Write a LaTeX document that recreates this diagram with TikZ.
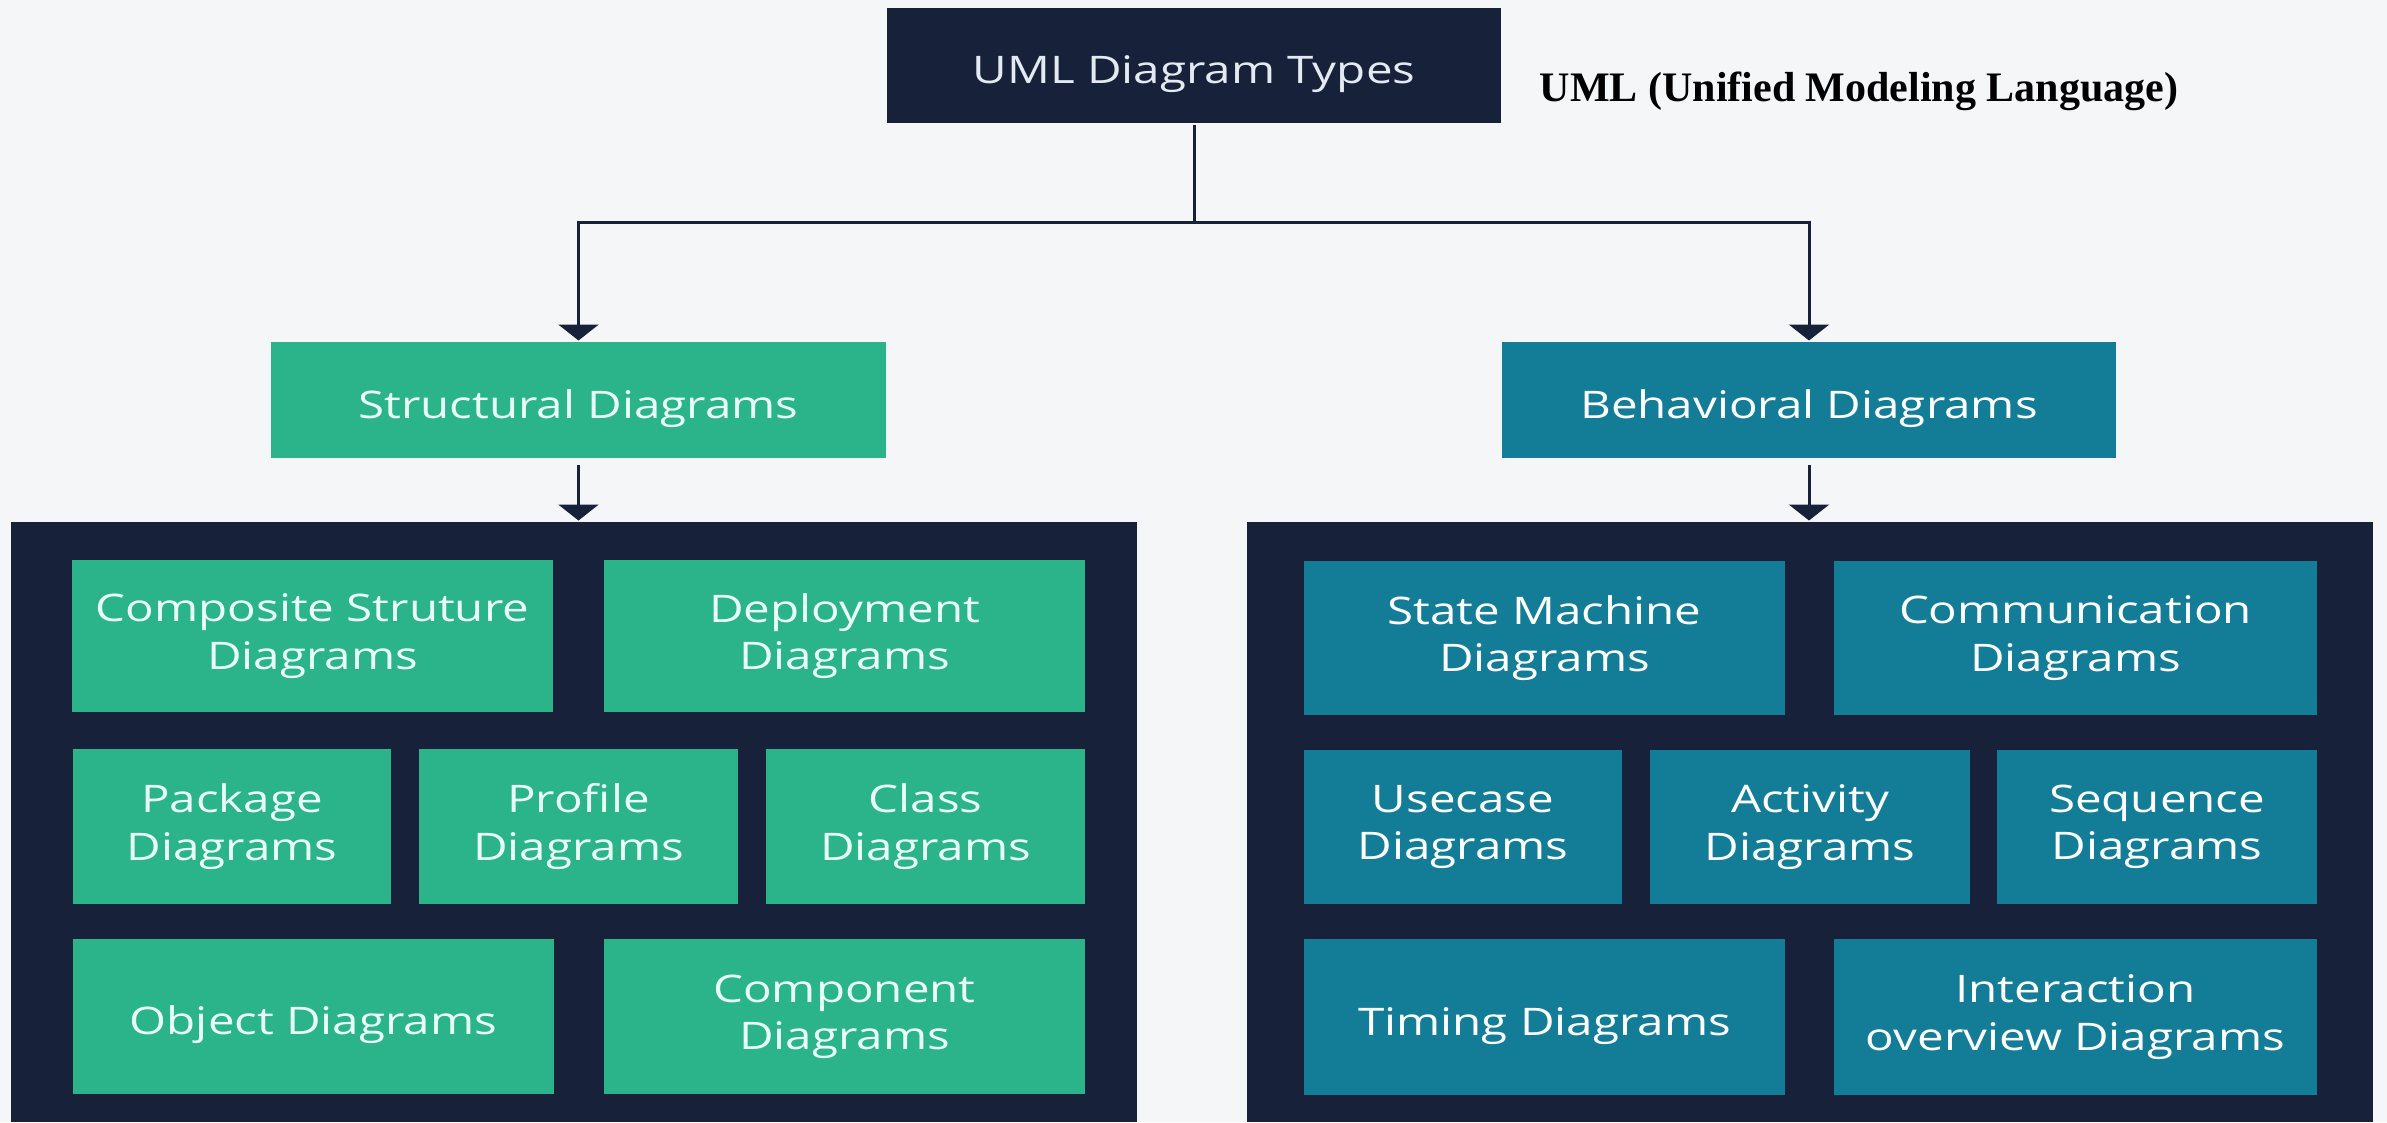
\documentclass[tikz,border=0pt]{standalone}
\usepackage{fontspec}
\setmainfont{Open Sans}[FakeStretch=1.25]
\newfontfamily\titlefont{Liberation Serif}
\usetikzlibrary{arrows.meta}

\definecolor{umlnavy}{RGB}{23,34,58}
\definecolor{umlgreen}{RGB}{43,179,138}
\definecolor{umlteal}{RGB}{19,124,150}
\definecolor{umlbg}{RGB}{244,246,248}
\definecolor{minttext}{RGB}{232,255,246}
\definecolor{paletext}{RGB}{228,234,242}

\newcommand\boxstrut{\rule{0pt}{34pt}}

\tikzset{every picture/.style={line width=2.25pt}}
\tikzset{
	box/.style 2 args={rectangle, inner sep=0pt, minimum width=#1*0.75pt, minimum height=#2*0.75pt, align=center, font=\fontsize{28.5}{35.5}\selectfont, execute at begin node=\boxstrut},
	greenbox/.style={fill=umlgreen, text=minttext},
	tealbox/.style={fill=umlteal, text=white},
	navybox/.style={fill=umlnavy, text=paletext},
	link/.style={draw=umlnavy, -{Triangle[width=30pt,length=12pt]}},
}

\begin{document}
\begin{tikzpicture}[x=0.75pt,y=0.75pt,yscale=-1,xscale=1]
	%Background
	\fill[umlbg] (0,0) rectangle (2387,1122);
	\useasboundingbox (0,0) rectangle (2387,1122);

	%Shape: Rectangle [top]
	\node[box={614}{115}, navybox] (uml) at (1194,65.5) {UML Diagram Types};
	% Text Node
	\node[anchor=base west, font=\titlefont\bfseries\fontsize{31.5}{36}\selectfont, text=black] (umltitle) at (1534,101) {UML (Unified Modeling Language)};

	%Shape: Rectangle [second row]
	\node[box={615}{116}, greenbox] (struct) at (578.5,400) {Structural Diagrams};
	\node[box={614}{116}, tealbox] (behav) at (1809,400) {Behavioral Diagrams};

	%Shape: Rectangle [panels]
	\node[box={1126}{600}, fill=umlnavy] (spanel) at (574,822) {};
	\node[box={1126}{600}, fill=umlnavy] (bpanel) at (1810,822) {};

	%Structural boxes
	\node[box={481}{152}, greenbox] (composite) at (312.5,636) {Composite Struture\\Diagrams};
	\node[box={481}{152}, greenbox] (deploy) at (844.5,636) {Deployment\\Diagrams};
	\node[box={318}{155}, greenbox] (package) at (232,826.5) {Package\\Diagrams};
	\node[box={319}{155}, greenbox] (profile) at (578.5,826.5) {Profile\\Diagrams};
	\node[box={319}{155}, greenbox] (class) at (925.5,826.5) {Class\\Diagrams};
	\node[box={481}{155}, greenbox] (object) at (313.5,1016.5) {Object Diagrams};
	\node[box={481}{155}, greenbox] (component) at (844.5,1016.5) {Component\\Diagrams};

	%Behavioral boxes
	\node[box={481}{154}, tealbox] (statemach) at (1544.5,638) {State Machine\\Diagrams};
	\node[box={483}{154}, tealbox] (commun) at (2075.5,638) {Communication\\Diagrams};
	\node[box={318}{154}, tealbox] (usecase) at (1463,827) {Usecase\\Diagrams};
	\node[box={320}{154}, tealbox] (activity) at (1810,827) {Activity\\Diagrams};
	\node[box={320}{154}, tealbox] (sequence) at (2157,827) {Sequence\\Diagrams};
	\node[box={481}{156}, tealbox] (timing) at (1544.5,1017) {Timing Diagrams};
	\node[box={483}{156}, tealbox] (interact) at (2075.5,1017) {Interaction\\overview Diagrams};

	%Straight Lines
	\coordinate (split) at (1194,222);
	\draw[draw=umlnavy] (uml.south) -- (split);
	\draw[link] (split) -| (struct.north);
	\draw[link] (split) -| (behav.north);
	\draw[link, shorten <=3.75pt] (struct.south) -- (struct.south |- spanel.north);
	\draw[link, shorten <=3.75pt] (behav.south) -- (behav.south |- bpanel.north);

\end{tikzpicture}
\end{document}
